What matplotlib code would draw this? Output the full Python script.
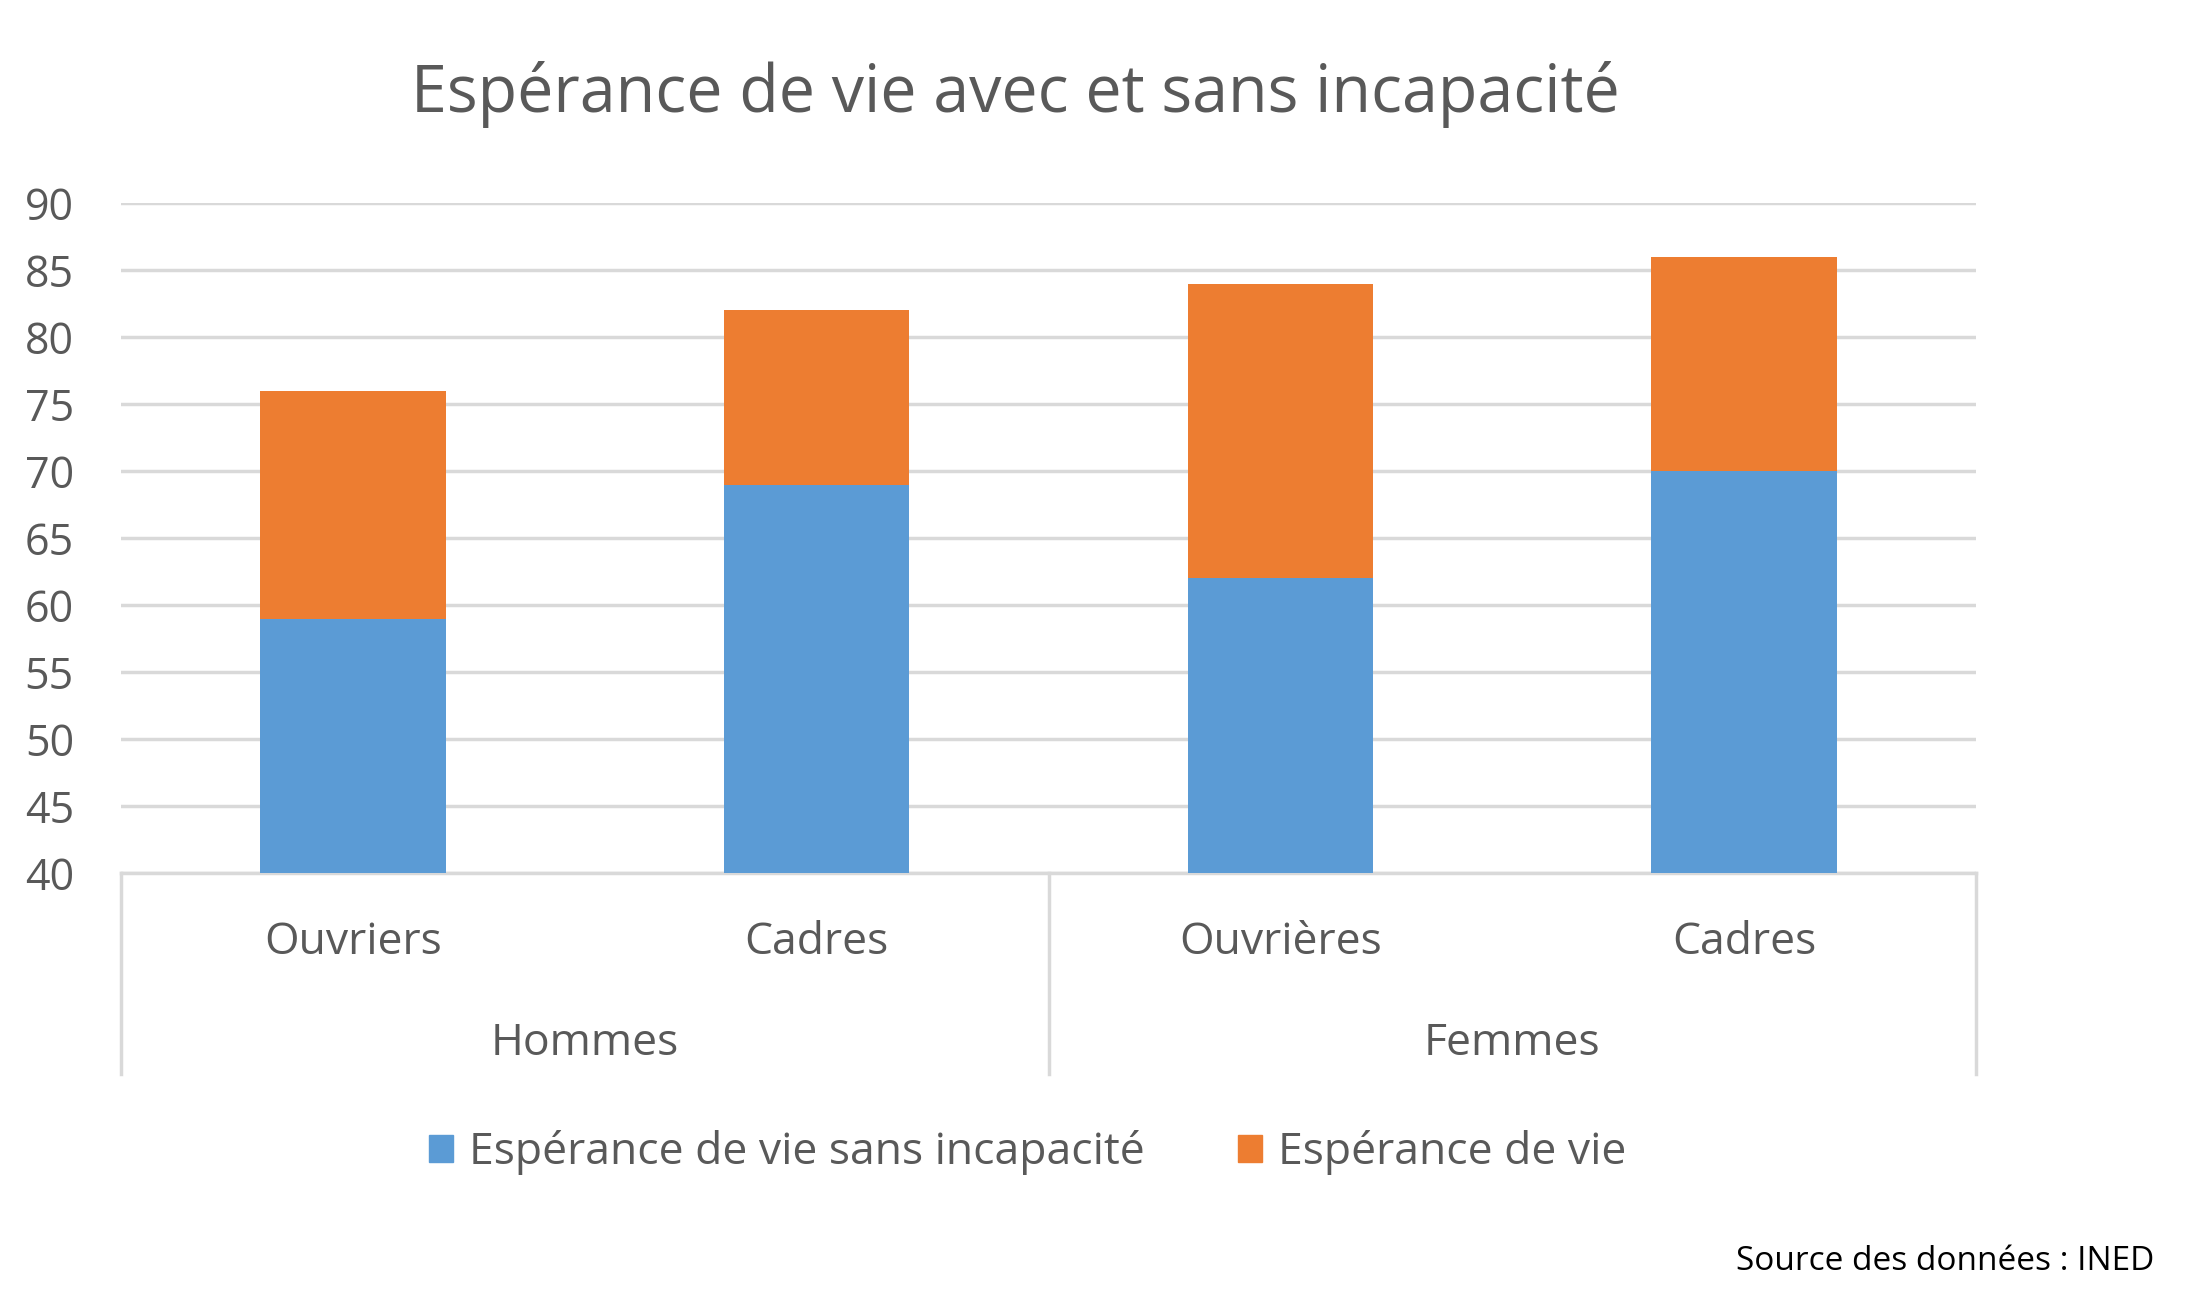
import matplotlib
matplotlib.use("Agg")
import matplotlib.pyplot as plt
from matplotlib.patches import Patch

plt.rcParams['font.family'] = ['Open Sans', 'DejaVu Sans']

# data
categories = ["Ouvriers", "Cadres", "Ouvrières", "Cadres"]
groups = ["Hommes", "Femmes"]
sans_incapacite = [59, 69, 62, 70]
esperance_totale = [76, 82, 84, 86]
ticks = [40, 45, 50, 55, 60, 65, 70, 75, 80, 85, 90]

blue = "#5B9BD5"
orange = "#ED7D31"
grey_txt = "#595959"
grid_col = "#D9D9D9"

fig = plt.figure(figsize=(22, 13.11), dpi=100)
ax = fig.add_axes([0.0551, 0.334, 0.843, 0.511])

x = list(range(len(categories)))
avec = [t - s for t, s in zip(esperance_totale, sans_incapacite)]
ax.bar(x, [s - ticks[0] for s in sans_incapacite], bottom=ticks[0], width=0.4,
       color=blue, zorder=3)
ax.bar(x, avec, bottom=sans_incapacite, width=0.4, color=orange, zorder=3)

ax.set_xlim(-0.5, len(categories) - 0.5)
ax.set_ylim(ticks[0], ticks[-1])
ax.set_yticks(ticks)
ax.yaxis.grid(True, color=grid_col, linewidth=2.5, zorder=0)
ax.tick_params(axis='y', length=0, labelsize=31, labelcolor=grey_txt, pad=34)
ax.set_xticks([])
for s in ax.spines.values():
    s.set_visible(False)

# category axis with group brackets
trans = ax.get_xaxis_transform()
ax.plot([-0.5, len(categories) - 0.5], [0, 0], color=grid_col, lw=2.5,
        transform=trans, clip_on=False)
per_group = len(categories) // len(groups)
for k in range(len(groups) + 1):
    xs = -0.5 + k * per_group
    ax.plot([xs, xs], [0, -0.30], color=grid_col, lw=2.5,
            transform=trans, clip_on=False)
for i, c in enumerate(categories):
    ax.text(i, -0.104, c, transform=trans, ha='center', va='center',
            fontsize=32, color=grey_txt)
for g, name in enumerate(groups):
    ax.text(-0.5 + (g + 0.5) * per_group, -0.255, name, transform=trans,
            ha='center', va='center', fontsize=32, color=grey_txt)

fig.text(0.4615, 0.928, "Espérance de vie avec et sans incapacité",
         ha='center', va='center', fontsize=46.5, color=grey_txt)

handles = [Patch(color=blue, label="Espérance de vie sans incapacité"),
           Patch(color=orange, label="Espérance de vie")]
leg = fig.legend(handles=handles, loc='center', bbox_to_anchor=(0.467, 0.121),
                 ncol=2, frameon=False, fontsize=32, handlelength=0.55,
                 handleheight=0.55, handletextpad=0.35, columnspacing=2.1)
for t in leg.get_texts():
    t.set_color(grey_txt)

fig.text(0.979, 0.038, "Source des données : INED", ha='right', va='center',
         fontsize=24, color='black')

fig.savefig("out.png", dpi=100)
